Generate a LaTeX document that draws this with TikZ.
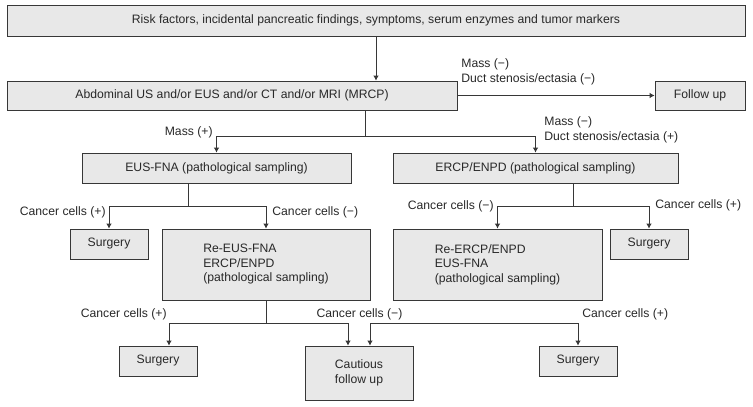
\documentclass[tikz,border=0pt]{standalone}
\usepackage{fontspec}
\setmainfont{Liberation Sans}
\usetikzlibrary{arrows.meta,positioning}
\definecolor{boxgray}{RGB}{232,232,232}
\definecolor{linegray}{RGB}{55,55,55}
\definecolor{txtgray}{RGB}{40,40,40}

\begin{document}
\begin{tikzpicture}[x=1pt,y=-1pt,font=\fontsize{12.2}{14.5}\selectfont,
    color=linegray,text=txtgray,line width=0.8pt,
    box/.style={draw,fill=boxgray,inner sep=0pt},
    lbl/.style={inner sep=0pt,align=left},
    arr/.style={-{Latex[length=5pt,width=5.5pt]}}]
  \useasboundingbox (0,0) rectangle (753,407);

  % boxes
  \node (risk) [box,minimum width=738pt,minimum height=31pt] at (376,20.5)
    {Risk factors, incidental pancreatic findings, symptoms, serum enzymes and tumor markers};
  \node (imaging) [box,minimum width=450pt,minimum height=29pt] at (232,95.5)
    {Abdominal US and/or EUS and/or CT and/or MRI (MRCP)};
  \node (followup) [box,minimum width=90pt,minimum height=29pt] at (700,95.5) {Follow up};
  \node (eusfna) [box,minimum width=269pt,minimum height=30pt] at (216.5,168)
    {EUS-FNA (pathological sampling)};
  \node (ercp) [box,minimum width=285pt,minimum height=30pt] at (535.5,168)
    {ERCP/ENPD (pathological sampling)};
  \node (surgA) [box,minimum width=78pt,minimum height=30pt] at (109,244) {Surgery};
  \node (reeus) [box,minimum width=208pt,minimum height=71pt,align=left] at (266,264.5)
    {Re-EUS-FNA\\ERCP/ENPD\\(pathological sampling)};
  \node (reercp) [box,minimum width=209pt,minimum height=71pt,align=left] at (497.5,264.5)
    {Re-ERCP/ENPD\\EUS-FNA\\(pathological sampling)};
  \node (surgB) [box,minimum width=78pt,minimum height=30pt] at (649,244) {Surgery};
  \node (surgC) [box,minimum width=78pt,minimum height=30pt] at (158,361) {Surgery};
  \node (cautious) [box,minimum width=108pt,minimum height=54pt,align=center] at (359,373)
    {Cautious\\follow up};
  \node (surgD) [box,minimum width=78pt,minimum height=30pt] at (578,361) {Surgery};

  % branch points
  \coordinate (s1) at (365,136);
  \coordinate (s2) at (188,206);
  \coordinate (s3) at (573,206);
  \coordinate (s4) at (266,323);
  \coordinate (s5) at (497.5,323);

  % connectors
  \draw[arr] (risk.south) -- (risk.south |- imaging.north);
  \draw[arr] (imaging) -- (followup);
  \draw (imaging.south -| s1) -- (s1);
  \draw[arr] (s1) -| (eusfna.north);
  \draw[arr] (s1) -| (ercp.north);
  \draw (eusfna.south -| s2) -- (s2);
  \draw[arr] (s2) -| (surgA.north);
  \draw[arr] (s2) -| (reeus.north);
  \draw (ercp.south -| s3) -- (s3);
  \draw[arr] (s3) -| (reercp.north);
  \draw[arr] (s3) -| (surgB.north);
  \draw (reeus.south) -- (s4);
  \draw[arr] (s4) -| ([xshift=11pt]surgC.north);
  \draw[arr] (s4) -| ([xshift=-11pt]cautious.north);
  \draw[arr] (s5) -| ([xshift=11pt]cautious.north);
  \draw[arr] (s5) -| (surgD.north);

  % labels
  \node (massneg) [lbl,anchor=west] at (461,72) {Mass (−)\\Duct stenosis/ectasia (−)};
  \node (masspos) [lbl,anchor=east] at (213,132) {Mass (+)};
  \node (ductpos) [lbl,anchor=west] at (544,130) {Mass (−)\\Duct stenosis/ectasia (+)};
  \node (cA) [lbl,anchor=east] at (106,212) {Cancer cells (+)};
  \node (cB) [lbl,anchor=west] at (272,212) {Cancer cells (−)};
  \node (cC) [lbl,anchor=east] at (494,206) {Cancer cells (−)};
  \node (cD) [lbl,anchor=west] at (655,205) {Cancer cells (+)};
  \node (cE) [lbl,anchor=east] at (167,314) {Cancer cells (+)};
  \node (cF) [lbl] at (359.5,314) {Cancer cells (−)};
  \node (cG) [lbl,anchor=west] at (582,314) {Cancer cells (+)};
\end{tikzpicture}
\end{document}
